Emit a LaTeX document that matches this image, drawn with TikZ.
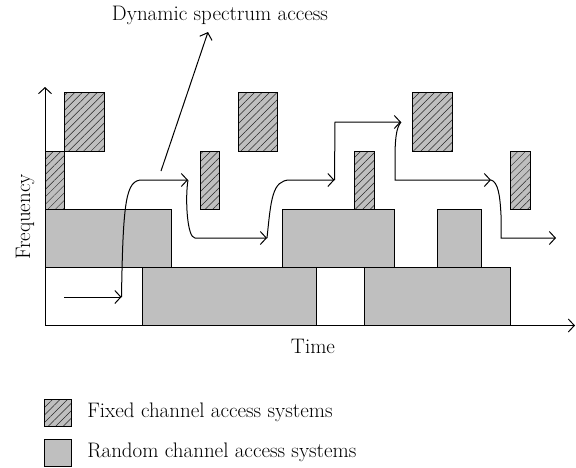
\documentclass[tikz,border=0pt]{standalone}
\usepackage{tikz}
\usetikzlibrary{positioning, arrows.meta, patterns.meta}
\definecolor{blockgray}{RGB}{191,191,191}

\begin{document}
\begin{tikzpicture}[x=1pt, y=-1pt, line width=1pt,
    every node/.style={font=\fontsize{21}{25}\selectfont},
    random/.style={draw, fill=blockgray},
    fixed/.style={draw, preaction={fill=blockgray}, pattern color=black!85,
        pattern={Lines[angle=45, distance=5.3pt, line width=0.5pt]}},
    flow/.style={-{Straight Barb[length=6pt, width=13pt]}}]
    \useasboundingbox (0,0) rectangle (576,467);

    % axes
    \coordinate (o) at (45,325.5);
    \coordinate (fmax) at (45,87);
    \coordinate (tmax) at (575,325.5);

    % lower row
    \draw (45,267.5) rectangle (510.7,325.5);
    \draw[random] (142.7,267.5) rectangle (316.7,325.5);
    \draw[random] (364.3,267.5) rectangle (510.7,325.5);

    % middle row
    \draw[random] (45,209.3) rectangle (171.3,267.5);
    \draw[random] (282.7,209.3) rectangle (394.3,267.5);
    \draw[random] (437.7,209.3) rectangle (481.3,267.5);

    % fixed channels
    \draw[fixed] (45,151) rectangle (64.3,209.3);
    \draw[fixed] (64.3,92.7) rectangle (104.3,151);
    \draw[fixed] (200,151) rectangle (219.7,209.3);
    \draw[fixed] (238,92.7) rectangle (277.7,151);
    \draw[fixed] (354.7,151) rectangle (374.7,209.3);
    \draw[fixed] (412.3,92.7) rectangle (452.3,151);
    \draw[fixed] (510.3,151) rectangle (530.3,209.3);

    \draw[-{Straight Barb[length=6pt, width=13pt]}] (o) -- (fmax);
    \draw[-{Straight Barb[length=6pt, width=13pt]}] (o) -- (tmax);

    % path of the secondary user
    \coordinate (s0) at (64.3,297);
    \coordinate (s1) at (121.5,297);
    \coordinate (s2) at (188,180);
    \coordinate (s3) at (267,238);
    \coordinate (s4) at (334.5,180);
    \coordinate (s5) at (401,122);
    \coordinate (s6) at (491,180);
    \coordinate (s7) at (556,238);

    \draw[flow] (s0) -- (s1);
    \draw[flow] (s1) .. controls (123,200) and (126,180) .. (142,180) -- (s2);
    \draw[flow] (s2) .. controls (185,198) and (187,238) .. (195,238) -- (s3);
    \draw[flow] (s3) .. controls (271,200) and (272,180) .. (290,180) -- (s4);
    \draw[flow] (s4) -- (335,122) -- (s5);
    \draw[flow] (s5) .. controls (396,128) and (395,140) .. (395,160) -- (395,180) -- (s6);
    \draw[flow] (s6) .. controls (498,182) and (500,195) .. (501,215) -- (501,238) -- (s7);

    % labels
    \node (dsa) at (220,15) {Dynamic spectrum access};
    \coordinate (dsafoot) at (161,171);
    \draw[flow] (dsafoot) -- (208,32);
    \node[rotate=90] (freq) at (25,217) {Frequency};
    \node (time) at (313,346) {Time};

    % legend
    \node[fixed, minimum size=27pt, inner sep=0pt] (keyfixed) at (57.5,412.5) {};
    \node[random, minimum size=27pt, inner sep=0pt] (keyrandom) at (57.5,452.5) {};
    \node[right=12pt of keyfixed] (fixedtext) {Fixed channel access systems};
    \node[right=12pt of keyrandom] (randomtext) {Random channel access systems};
\end{tikzpicture}
\end{document}
